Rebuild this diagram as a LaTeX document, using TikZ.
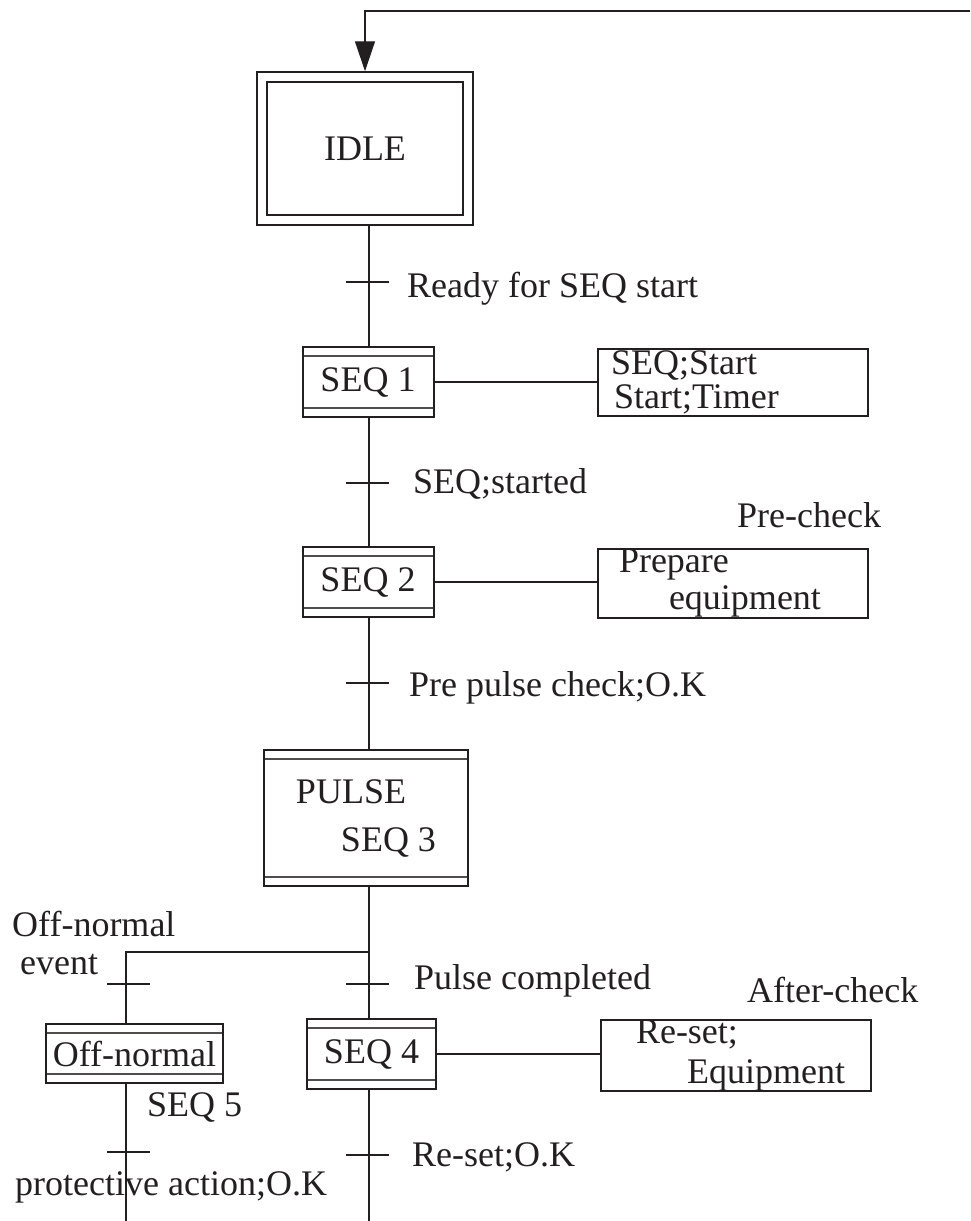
\documentclass[tikz,border=0pt]{standalone}
\usepackage{fontspec}
\setmainfont{Liberation Serif}
\usepackage{xcolor}
\usepackage{tikz}
\usetikzlibrary{arrows.meta}
\definecolor{ink}{HTML}{231F20}
\tikzset{
  lbl/.style={font=\fontsize{36}{38}\selectfont, text=ink, inner sep=0pt},
  conn/.style={draw=ink, line width=1.4pt},
  trbar/.style={draw=ink, line width=1.5pt},
  seqbox/.style={draw=ink, line width=2pt, inner sep=0pt, font=\fontsize{36}{38}\selectfont, text=ink,
    path picture={\draw[ink!80, line width=1.3pt]
      ([yshift=-9pt]path picture bounding box.north west) -- ([yshift=-9pt]path picture bounding box.north east)
      ([yshift=9pt]path picture bounding box.south west) -- ([yshift=9pt]path picture bounding box.south east);}},
  actbox/.style={draw=ink, line width=2pt, minimum width=270pt, minimum height=67pt, text width=244pt,
    inner xsep=13pt, inner ysep=0pt, align=left, font=\fontsize{36}{37}\selectfont, text=ink},
}

\begin{document}
\begin{tikzpicture}[x=1pt, y=-1pt]
\useasboundingbox (0,0) rectangle (970,1221);
\coordinate (spine) at (369,0);
\coordinate (branch) at (126,0);
\node[lbl, draw=ink, double=white, double distance=7.5pt, line width=2pt, minimum width=206pt, minimum height=143pt, outer sep=5.75pt] (idle) at (365,148.5) {IDLE};
\node[seqbox, minimum width=131pt, minimum height=70pt] (seq1) at (368,382) {SEQ 1};
\node[seqbox, minimum width=131pt, minimum height=70pt] (seq2) at (368,582) {SEQ 2};
\node[seqbox, minimum width=204pt, minimum height=136pt, align=left, font=\fontsize{36}{48}\selectfont] (pulse) at (366,818) {PULSE\\\hspace*{45pt}SEQ 3};
\node[seqbox, minimum width=129pt, minimum height=70pt] (seq4) at (371.5,1054) {SEQ 4};
\node[seqbox, minimum width=177pt, minimum height=59pt] (offn) at (134.5,1053.5) {Off-normal};
\node[actbox, font=\fontsize{36}{34}\selectfont] (act1) at (733,382) {SEQ;Start\\\hspace*{3pt}Start;Timer};
\node[actbox] (act2) at (733,583.5) {\hspace*{8pt}Prepare\\\hspace*{58pt}equipment};
\node[actbox, font=\fontsize{36}{40}\selectfont] (act3) at (736,1055.5) {\hspace*{22pt}Re-set;\\\hspace*{73pt}Equipment};
\node[lbl, anchor=west] (c1) at (407,289) {Ready for SEQ start};
\node[lbl, anchor=west] (c2) at (413,484) {SEQ;started};
\node[lbl, anchor=west] (c3) at (409,688) {Pre pulse check;O.K};
\node[lbl, anchor=west] (c4) at (414,981) {Pulse completed};
\node[lbl, anchor=west] (c5) at (412,1157) {Re-set;O.K};
\node[lbl, anchor=west, align=left] (c6) at (12,943) {Off-normal\\\hspace*{8pt}event};
\node[lbl, anchor=west] (c7) at (15,1187) {protective action;O.K};
\node[lbl, anchor=west] (seq5) at (147,1107) {SEQ 5};
\node[lbl, anchor=west] (pre) at (737,515) {Pre-check};
\node[lbl, anchor=west] (after) at (747,990) {After-check};
\coordinate (loopin) at (970,11);
\coordinate (fork) at (369,952);
\coordinate (mainend) at (369,1221);
\coordinate (leftend) at (126,1221);
\draw[conn, -{Triangle[length=30pt, width=20pt]}] (loopin) -| (idle.north);
\draw[conn] (idle.south -| spine) -- (seq1.north -| spine);
\draw[conn] (seq1.south -| spine) -- (seq2.north -| spine);
\draw[conn] (seq2.south -| spine) -- (pulse.north -| spine);
\draw[conn] (pulse.south -| spine) -- (seq4.north -| spine);
\draw[conn] (seq4.south -| spine) -- (mainend);
\draw[conn] (fork) -| (offn.north -| branch);
\draw[conn] (offn.south -| branch) -- (leftend);
\draw[conn] (seq1.east) -- (act1.west);
\draw[conn] (seq2.east) -- (seq2.east -| act2.west);
\draw[conn] (seq4.east) -- (seq4.east -| act3.west);
\foreach \n/\px/\py in {t1/369/282, t2/369/483, t3/369/683, t4/369/984, t5/369/1155} {
  \coordinate (\n) at (\px,\py);
  \draw[trbar] ([xshift=-23pt]\n) -- ([xshift=20pt]\n);
}
\foreach \n/\px/\py in {t6/126/984, t7/126/1152} {
  \coordinate (\n) at (\px,\py);
  \draw[trbar] ([xshift=-19pt]\n) -- ([xshift=24pt]\n);
}
\end{tikzpicture}
\end{document}
